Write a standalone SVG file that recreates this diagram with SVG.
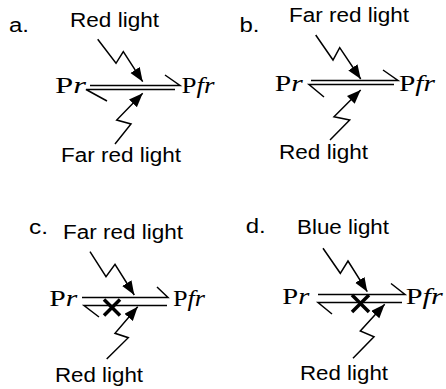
<svg xmlns="http://www.w3.org/2000/svg" width="446" height="389" viewBox="0 0 446 389">
<style>
.lbl{font-family:"Liberation Sans",Arial,sans-serif;font-size:19.5px;fill:#000}
.tag{font-family:"Liberation Sans",Arial,sans-serif;font-size:20px;fill:#000}
.chem{font-family:"Liberation Serif","Times New Roman",serif;font-size:24px;fill:#000}
.it{font-style:italic}
.ln{fill:none;stroke:#000;stroke-width:1.5}
.zz{fill:none;stroke:#000;stroke-width:1.5;marker-end:url(#ah)}
.x{fill:none;stroke:#000;stroke-width:3.5}
</style>
<defs>
<marker id="ah" markerUnits="userSpaceOnUse" markerWidth="15" markerHeight="12" refX="14" refY="5.5" orient="auto" viewBox="0 0 15 12">
<path d="M0,0 L14,5.5 L0,11 z" fill="#000"/>
</marker>
</defs>

<g id="panel-a">
<text class="tag" x="9" y="32" textLength="20" lengthAdjust="spacingAndGlyphs">a.</text>
<text class="lbl" x="70" y="26.5" textLength="89" lengthAdjust="spacingAndGlyphs">Red light</text>
<text class="lbl" x="61" y="161.5" textLength="120" lengthAdjust="spacingAndGlyphs">Far red light</text>
<g id="a-Pr"><text class="chem" x="55" y="93" textLength="31" lengthAdjust="spacingAndGlyphs">P<tspan class="it">r</tspan></text></g>
<g id="a-Pfr"><text class="chem" x="181.5" y="93" textLength="33" lengthAdjust="spacingAndGlyphs">P<tspan class="it">fr</tspan></text></g>
</g>

<g id="panel-b">
<text class="tag" x="239.5" y="32" textLength="20" lengthAdjust="spacingAndGlyphs">b.</text>
<text class="lbl" x="289" y="21.5" textLength="120" lengthAdjust="spacingAndGlyphs">Far red light</text>
<text class="lbl" x="279" y="158.5" textLength="89" lengthAdjust="spacingAndGlyphs">Red light</text>
<g id="b-Pr"><text class="chem" x="274.7" y="91" textLength="28" lengthAdjust="spacingAndGlyphs">P<tspan class="it">r</tspan></text></g>
<g id="b-Pfr"><text class="chem" x="399" y="91" textLength="36" lengthAdjust="spacingAndGlyphs">P<tspan class="it">fr</tspan></text></g>
</g>

<g id="panel-c">
<text class="tag" x="29" y="234" textLength="19" lengthAdjust="spacingAndGlyphs">c.</text>
<text class="lbl" x="63" y="239" textLength="120" lengthAdjust="spacingAndGlyphs">Far red light</text>
<text class="lbl" x="55" y="381.5" textLength="88" lengthAdjust="spacingAndGlyphs">Red light</text>
<g id="c-Pr"><text class="chem" x="49.3" y="306" textLength="28" lengthAdjust="spacingAndGlyphs">P<tspan class="it">r</tspan></text></g>
<g id="c-Pfr"><text class="chem" x="173" y="306" textLength="32" lengthAdjust="spacingAndGlyphs">P<tspan class="it">fr</tspan></text></g>
</g>

<g id="panel-d">
<text class="tag" x="245.7" y="233" textLength="20" lengthAdjust="spacingAndGlyphs">d.</text>
<text class="lbl" x="297" y="234" textLength="92" lengthAdjust="spacingAndGlyphs">Blue light</text>
<text class="lbl" x="300" y="380" textLength="88" lengthAdjust="spacingAndGlyphs">Red light</text>
<g id="d-Pr"><text class="chem" x="282.3" y="303.5" textLength="27" lengthAdjust="spacingAndGlyphs">P<tspan class="it">r</tspan></text></g>
<g id="d-Pfr"><text class="chem" x="405.7" y="303.5" textLength="37" lengthAdjust="spacingAndGlyphs">P<tspan class="it">fr</tspan></text></g>
</g>

<g id="connectors">
<!-- a -->
<path class="ln" d="M90,85.5 L180,85.5 L165,75"/>
<path class="ln" d="M175,89.5 L86,89.5 L107,101"/>
<path class="zz" d="M97.7,39.3 L116,63.3 L123.3,51.7 L142.7,81.7"/>
<path class="zz" d="M115,144 L131,124 L116.7,120 L142.7,93.3"/>
<!-- b -->
<path class="ln" d="M311,80.5 L398,80.5 L383,70"/>
<path class="ln" d="M394,84.5 L309,84.5 L324,97"/>
<path class="zz" d="M315.7,35 L333,60 L339.7,47.7 L360.7,79"/>
<path class="zz" d="M330,140 L349.7,120 L334,116.7 L360.7,90"/>
<!-- c -->
<path class="ln" d="M82,297.5 L168,297.5 L157,287"/>
<path class="ln" d="M167,305.5 L84,305.5 L99,317"/>
<path class="x" d="M104,299.5 L120,315.5 M120,299.5 L104,315.5"/>
<path class="zz" d="M90,251.7 L106,276.7 L115,264.3 L134.3,295"/>
<path class="zz" d="M106.7,359 L128.3,337.7 L115,333.3 L137.7,306.7"/>
<!-- d -->
<path class="ln" d="M318,294.5 L405,294.5 L391,283.5"/>
<path class="ln" d="M402,302.5 L318,302.5 L332,314"/>
<path class="x" d="M352,295 L369,312 M369,295 L352,312"/>
<path class="zz" d="M323,248.3 L340.3,273.3 L348,261 L367.3,291.7"/>
<path class="zz" d="M353,358.3 L374,336.7 L360.3,331 L384.7,304.3"/>
</g>
</svg>
